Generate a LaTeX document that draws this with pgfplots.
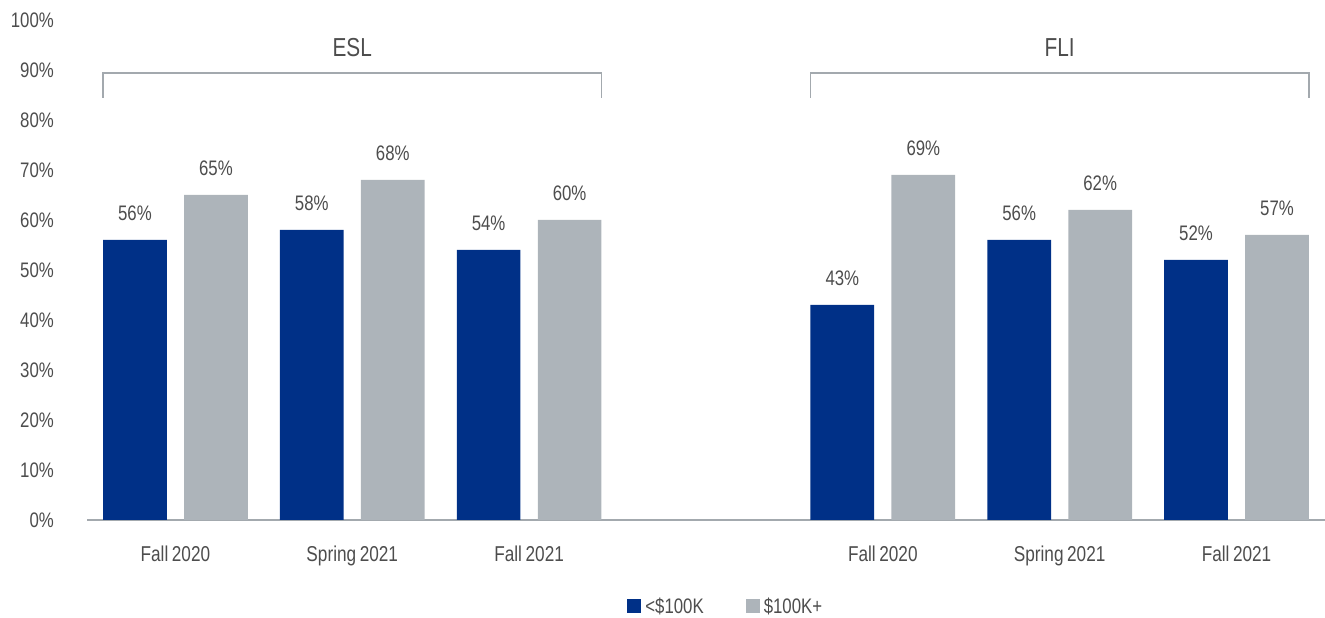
\documentclass[border=0pt]{standalone}
\usepackage{pgfplots}
\pgfplotsset{compat=1.18}
\usepackage{fontspec}
\setmainfont{Liberation Sans}[FakeStretch=0.8]
\definecolor{barblue}{HTML}{003087}
\definecolor{bargray}{HTML}{ADB4BA}
\definecolor{txt}{HTML}{4D4D4D}
\definecolor{axgray}{HTML}{A3A9AE}

\begin{document}
\begin{tikzpicture}[x=1pt,y=1pt]
\useasboundingbox (0,0) rectangle (1325,618);
\begin{axis}[
  at={(87pt,98pt)}, anchor=south west,
  scale only axis, width=1238pt, height=500pt,
  xmin=-0.5, xmax=6.5, ymin=0, ymax=100,
  clip=false,
  ybar, bar width=0.36,
  axis x line*=bottom, axis y line*=left,
  y axis line style={draw=none},
  x axis line style={axgray, line width=2pt, -},
  major tick length=0pt,
  xtick={0,1,2,4,5,6},
  xticklabels={Fall\,2020, Spring\,2021, Fall\,2021, Fall\,2020, Spring\,2021, Fall\,2021},
  ytick={0,10,...,100},
  /pgf/number format/assume math mode=true,
  yticklabel={\pgfmathprintnumber{\tick}\%},
  xticklabel style={font=\fontsize{21.5}{25}\selectfont, text=txt, inner sep=0pt, anchor=north, yshift=-26pt},
  yticklabel style={font=\fontsize{21}{25}\selectfont, text=txt, inner sep=0pt, anchor=east, xshift=-33pt},
  nodes near coords={\pgfmathprintnumber{\pgfplotspointmeta}\%},
  nodes near coords style={font=\fontsize{21}{25}\selectfont, text=txt, inner sep=0pt, anchor=south, yshift=19pt},
  legend style={at={(0.516,-0.172)}, anchor=center, draw=none, fill=none,
    legend columns=2, font=\fontsize{21}{25}\selectfont, text=txt,
    /tikz/every even column/.append style={column sep=40pt},
    /tikz/every odd column/.append style={column sep=2pt}},
]
\addplot[fill=barblue, draw=none, bar shift=-0.229,
  legend image code/.code={\fill[barblue] (0pt,-7pt) rectangle (14pt,7pt);}]
  coordinates {(0,56) (1,58) (2,54) (4,43) (5,56) (6,52)};
\addlegendentry{<\$100K}
\addplot[fill=bargray, draw=none, bar shift=0.229,
  legend image code/.code={\fill[bargray] (0pt,-7pt) rectangle (14pt,7pt);}]
  coordinates {(0,65) (1,68) (2,60) (4,69) (5,62) (6,57)};
\addlegendentry{\$100K+}
\draw[axgray, line width=1.5pt] (axis cs:-0.409,84.4) |- (axis cs:2.409,89.4) -- (axis cs:2.409,84.4);
\draw[axgray, line width=1.5pt] (axis cs:3.591,84.4) |- (axis cs:6.409,89.4) -- (axis cs:6.409,84.4);
\node[font=\fontsize{26}{30}\selectfont, text=txt] at (axis cs:1,94.4) {ESL};
\node[font=\fontsize{26}{30}\selectfont, text=txt] at (axis cs:5,94.4) {FLI};
\end{axis}
\end{tikzpicture}
\end{document}
